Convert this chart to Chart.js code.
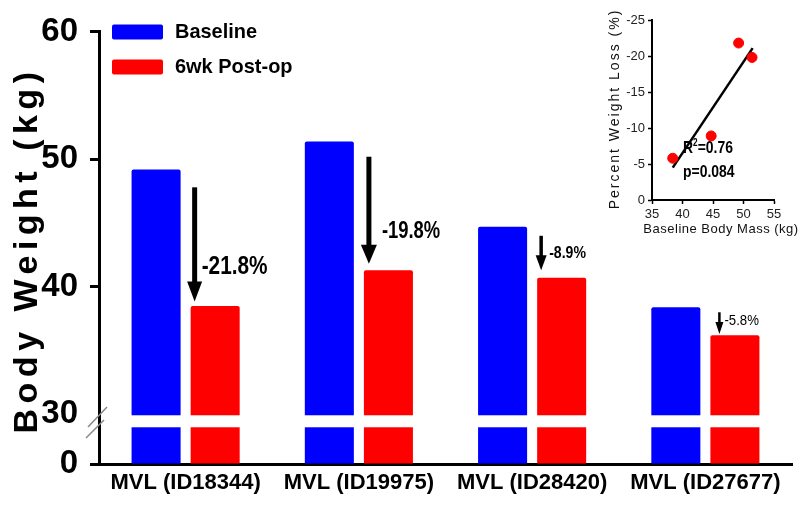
<!DOCTYPE html>
<html>
<head>
<meta charset="utf-8">
<script src="https://cdn.jsdelivr.net/npm/chart.js@4.4.1/dist/chart.umd.min.js"></script>
<style>
  html, body { margin: 0; padding: 0; background: #fff; }
  #wrap { position: relative; width: 800px; height: 506px; }
  #main { position: absolute; left: 0; top: 0; }
  #inset { position: absolute; left: 600px; top: 0; }
</style>
</head>
<body>
<div id="wrap">
  <canvas id="main" width="800" height="506"></canvas>
  <canvas id="inset" width="200" height="245"></canvas>
</div>
<script>
// ---- data ----
const subjects = ['MVL (ID18344)', 'MVL (ID19975)', 'MVL (ID28420)', 'MVL (ID27677)'];
const baseline = [49.2, 51.4, 44.7, 38.4];
const postOp   = [38.5, 41.3, 40.7, 36.2];
const pctLoss  = [-21.8, -19.8, -8.9, -5.8];
const pctText  = ['-21.8%', '-19.8%', '-8.9%', '-5.8%'];
const yTicks   = [0, 30, 40, 50, 60];

// arrows (kg): where each arrow starts / where its tip ends
const arrowFrom = [47.8, 50.2, 44.0, 38.0];
const arrowTo   = [38.85, 41.8, 41.3, 36.3];
const labelAt   = [41.6, 44.3, 42.6, 37.3];

// inset: fitted line end points
const fitMass = [38.4, 51.5];
const fitLoss = [-4.5, -21.1];
const insetXTicks = [35, 40, 45, 50, 55];

// broken axis: 0-30 squeezed into a short stub
const LOW = 30, LOW_SPAN = 3.9;
function toAxis(v) {
  return v >= LOW ? LOW_SPAN + (v - LOW) : v / LOW * LOW_SPAN;
}

Chart.defaults.font.family = "'Liberation Sans', Arial, sans-serif";
Chart.defaults.color = '#000';

function txt(ctx, s, x, y, font, sx, align) {
  ctx.save();
  ctx.font = font;
  ctx.fillStyle = '#000';
  ctx.translate(x, y);
  ctx.scale(sx, 1);
  ctx.textAlign = align || 'left';
  ctx.textBaseline = 'middle';
  ctx.fillText(s, 0, 0);
  ctx.restore();
}

function arrow(ctx, x, y1, y2, w, hw, hl) {
  ctx.save();
  ctx.fillStyle = '#000';
  ctx.fillRect(x - w / 2, y1, w, y2 - y1 - hl + 1);
  ctx.beginPath();
  ctx.moveTo(x - hw / 2, y2 - hl);
  ctx.lineTo(x + hw / 2, y2 - hl);
  ctx.lineTo(x, y2);
  ctx.closePath();
  ctx.fill();
  ctx.restore();
}

// arrow / label styles
const arrowStyle = [
  { dx: 4, w: 5, hw: 15, hl: 20, ldx: 7,  font: 'bold 26px Liberation Sans', sx: 0.8 },
  { dx: 5, w: 5, hw: 16, hl: 19, ldx: 13, font: 'bold 23px Liberation Sans', sx: 0.8 },
  { dx: 4, w: 3.5, hw: 11, hl: 15, ldx: 8, font: 'bold 16px Liberation Sans', sx: 0.88 },
  { dx: 9, w: 2.5, hw: 8, hl: 12, ldx: 5, font: '15px Liberation Sans', sx: 0.88 }
];

const mainDecor = {
  id: 'mainDecor',
  afterDatasetsDraw(chart) {
    const ctx = chart.ctx, y = chart.scales.y, a = chart.chartArea;
    // white break band through the bars
    const y30 = y.getPixelForValue(toAxis(30));
    ctx.save();
    ctx.fillStyle = '#fff';
    ctx.fillRect(a.left + 2, y30 + 1, a.right - a.left, 12);
    ctx.restore();

    // arrows + percent labels
    const red = chart.getDatasetMeta(1).data;
    arrowStyle.forEach((s, i) => {
      const bx = red[i].x - red[i].width / 2 + s.dx;
      arrow(ctx, bx, y.getPixelForValue(toAxis(arrowFrom[i])),
            y.getPixelForValue(toAxis(arrowTo[i])), s.w, s.hw, s.hl);
      txt(ctx, pctText[i], bx + s.ldx, y.getPixelForValue(toAxis(labelAt[i])), s.font, s.sx);
    });
  },
  afterDraw(chart) {
    const ctx = chart.ctx;
    // y title with spread letters
    ctx.save();
    ctx.translate(28, 250);
    ctx.rotate(-Math.PI / 2);
    ctx.font = 'bold 34px Liberation Sans';
    ctx.letterSpacing = '5.5px';
    ctx.textAlign = 'center';
    ctx.textBaseline = 'middle';
    ctx.fillStyle = '#000';
    ctx.fillText('Body Weight (kg)', 0, 0);
    ctx.restore();

    // axis break marks
    ctx.save();
    ctx.strokeStyle = '#888';
    ctx.lineWidth = 1.5;
    ctx.beginPath();
    ctx.moveTo(88, 427); ctx.lineTo(107, 407);
    ctx.moveTo(86, 438); ctx.lineTo(104, 420);
    ctx.stroke();
    ctx.restore();

    // legend
    const items = [['Baseline', '#0000ff', 32], ['6wk Post-op', '#ff0000', 67]];
    items.forEach(([t, c, cy]) => {
      ctx.save();
      ctx.fillStyle = c;
      ctx.beginPath();
      ctx.roundRect(112, cy - 7.5, 51, 15, 2);
      ctx.fill();
      ctx.restore();
      txt(ctx, t, 175, cy, 'bold 21px Liberation Sans', 0.95);
    });
  }
};

new Chart(document.getElementById('main'), {
  type: 'bar',
  data: {
    labels: subjects,
    datasets: [
      { label: 'Baseline', data: baseline.map(toAxis), backgroundColor: '#0000ff', borderRadius: 2 },
      { label: '6wk Post-op', data: postOp.map(toAxis), backgroundColor: '#ff0000', borderRadius: 2 }
    ]
  },
  options: {
    responsive: false,
    animation: false,
    devicePixelRatio: 1,
    layout: { padding: { top: 20, right: 8, left: 0, bottom: 0 } },
    datasets: { bar: { categoryPercentage: 0.682, barPercentage: 0.83 } },
    plugins: { legend: { display: false }, tooltip: { enabled: false } },
    scales: {
      x: {
        grid: { display: false, drawTicks: false },
        border: { color: '#000', width: 3 },
        ticks: { padding: 6, color: '#000', font: { size: 22, weight: 'bold' } },
        afterFit(s) { s.height = 42; }
      },
      y: {
        min: 0,
        max: toAxis(60),
        afterBuildTicks(s) { s.ticks = yTicks.map(v => ({ value: toAxis(v) })); },
        grid: {
          drawOnChartArea: false,
          tickLength: 9,
          tickWidth: 3,
          tickColor: c => (c.index === 1 ? 'rgba(0,0,0,0)' : '#000')
        },
        border: { color: '#000', width: 3 },
        ticks: {
          padding: 12,
          color: '#000',
          font: { size: 33, weight: 'bold' },
          callback: (v, i) => String(yTicks[i])
        },
        afterFit(s) { s.width = 99; }
      }
    }
  },
  plugins: [mainDecor]
});

// ---- inset scatter ----
const insetDecor = {
  id: 'insetDecor',
  afterDraw(chart) {
    const ctx = chart.ctx;
    // R^2 and p
    const x0 = 83;
    ctx.save();
    ctx.font = 'bold 17px Liberation Sans';
    ctx.translate(x0, 148);
    ctx.scale(0.82, 1);
    ctx.textBaseline = 'middle';
    ctx.fillStyle = '#000';
    ctx.fillText('R', 0, 0);
    let w = ctx.measureText('R').width;
    ctx.font = 'bold 10px Liberation Sans';
    ctx.fillText('2', w, -5);
    w += ctx.measureText('2').width;
    ctx.font = 'bold 17px Liberation Sans';
    ctx.fillText('=0.76', w, 0);
    ctx.restore();
    txt(ctx, 'p=0.084', x0, 172, 'bold 17px Liberation Sans', 0.82);

    // axis titles
    ctx.save();
    ctx.fillStyle = '#111';
    ctx.font = '14px Liberation Sans';
    ctx.letterSpacing = '2px';
    ctx.textAlign = 'center';
    ctx.textBaseline = 'middle';
    ctx.translate(15, 109);
    ctx.rotate(-Math.PI / 2);
    ctx.fillText('Percent Weight Loss (%)', 0, 0);
    ctx.restore();

    ctx.save();
    ctx.fillStyle = '#111';
    ctx.font = '13px Liberation Sans';
    ctx.letterSpacing = '0.5px';
    ctx.textAlign = 'center';
    ctx.textBaseline = 'middle';
    ctx.fillText('Baseline Body Mass (kg)', 121, 229);
    ctx.restore();
  }
};

new Chart(document.getElementById('inset'), {
  type: 'scatter',
  data: {
    datasets: [
      {
        data: baseline.map((m, i) => ({ x: m, y: pctLoss[i] })),
        backgroundColor: '#ff0000',
        borderColor: '#ff0000',
        pointRadius: 5
      },
      {
        type: 'line',
        data: fitMass.map((m, i) => ({ x: m, y: fitLoss[i] })),
        borderColor: '#000',
        borderWidth: 2.5,
        pointRadius: 0,
        fill: false
      }
    ]
  },
  options: {
    responsive: false,
    animation: false,
    devicePixelRatio: 1,
    layout: { padding: { top: 20, right: 26, left: 0, bottom: 0 } },
    plugins: { legend: { display: false }, tooltip: { enabled: false } },
    scales: {
      x: {
        min: 35, max: 55,
        afterBuildTicks(s) { s.ticks = insetXTicks.map(v => ({ value: v })); },
        grid: { drawOnChartArea: false, tickLength: 4, tickColor: '#000', tickWidth: 1.5 },
        border: { color: '#000', width: 2 },
        ticks: { padding: 3, color: '#222', font: { size: 13 } },
        afterFit(s) { s.height = 45; }
      },
      y: {
        min: -25, max: 0, reverse: true,
        ticks: { stepSize: 5, padding: 3, color: '#222', font: { size: 13 } },
        grid: { drawOnChartArea: false, tickLength: 4, tickColor: '#000', tickWidth: 1.5 },
        border: { color: '#000', width: 2 },
        afterFit(s) { s.width = 52; }
      }
    }
  },
  plugins: [insetDecor]
});
</script>
</body>
</html>
